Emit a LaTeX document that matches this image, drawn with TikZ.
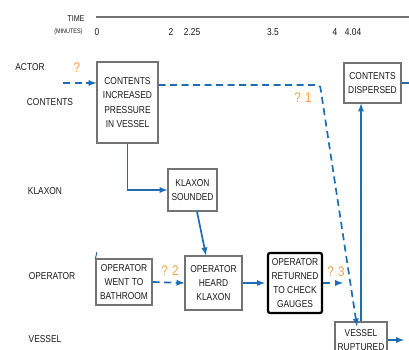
\documentclass[tikz,border=0pt]{standalone}
\usepackage{fontspec}
\setmainfont[FakeStretch=0.84]{Liberation Sans}
\usetikzlibrary{arrows}
\definecolor{flowblue}{RGB}{30,108,178}
\definecolor{qorange}{RGB}{246,162,72}
\definecolor{boxgray}{RGB}{115,115,115}
\tikzset{
  evbox/.style={draw=boxgray,line width=1.1pt,fill=white,align=center,inner sep=1pt,
    font=\fontsize{10}{14.3}\selectfont,text=black!90},
  keybox/.style={evbox,draw=black,line width=2.2pt,rounded corners=2pt},
  rowlab/.style={font=\fontsize{10}{12}\selectfont,text=black!90},
  tick/.style={font=\fontsize{10}{12}\selectfont,text=black!90},
  qmark/.style={font=\fontsize{14}{16}\selectfont,text=qorange},
  flow/.style={draw=flowblue,line width=1.7pt,-latex},
  dflow/.style={flow,dash pattern=on 7pt off 4.5pt},
}
\begin{document}
\begin{tikzpicture}[x=1pt,y=-1pt]
\useasboundingbox (0,0) rectangle (409,349);
\clip (0,0) rectangle (409,349);
% time axis
\draw[boxgray,line width=1.2pt] (96,17)--(409,17);
\node[font=\fontsize{8.5}{10}\selectfont,text=black!90,anchor=east] (timelab) at (88,19) {TIME};
\node[font=\fontsize{6.5}{8}\selectfont,text=black!90,anchor=east] (minlab) at (86,32) {(MINUTES)};
\node[tick] (t0) at (97,32) {0};
\node[tick] (t2) at (171,32) {2};
\node[tick] (t225) at (192,32) {2.25};
\node[tick] (t35) at (273,32) {3.5};
\node[tick] (t4) at (335,32) {4};
\node[tick] (t404) at (353,32) {4.04};
% rows
\node[rowlab] (ractor) at (30,67) {ACTOR};
\node[rowlab] (rcont) at (50,102) {CONTENTS};
\node[rowlab] (rklax) at (45,191) {KLAXON};
\node[rowlab] (roper) at (52,276) {OPERATOR};
\node[rowlab] (rvess) at (45,339) {VESSEL};
% events
\node[evbox,minimum width=61pt,minimum height=81pt] (press) at (127.5,102.5) {CONTENTS\\INCREASED\\PRESSURE\\IN VESSEL};
\node[evbox,minimum width=57pt,minimum height=40pt] (disp) at (372.5,83) {CONTENTS\\DISPERSED};
\node[evbox,minimum width=49pt,minimum height=42pt] (sound) at (192.5,190) {KLAXON\\SOUNDED};
\node[evbox,minimum width=56pt,minimum height=46pt] (bath) at (124,282) {OPERATOR\\WENT TO\\BATHROOM};
\node[evbox,minimum width=57pt,minimum height=54pt] (heard) at (213.5,283) {OPERATOR\\HEARD\\KLAXON};
\node[keybox,minimum width=54pt,minimum height=60pt] (back) at (295,283) {OPERATOR\\RETURNED\\TO CHECK\\GAUGES};
\node[evbox,minimum width=52pt,minimum height=36pt] (rupt) at (361,340) {VESSEL\\RUPTURED};
% unknowns
\node[qmark] (q0) at (77,68) {?};
\node[qmark] (q1) at (303,98) {? 1};
\node[qmark] (q2) at (170,271) {? 2};
\node[qmark] (q3) at (336,272) {? 3};
% links
\coordinate (start) at (63,83);
\coordinate (bend) at (320,85);
\coordinate (tickend) at (97,252);
\coordinate (q3end) at (343,283);
\coordinate (ruptout) at (404,340);
\coordinate (dispout) at (409,83);
\draw[dflow] (start)--(press.west|-start);
\draw[dflow,rounded corners=2pt] (press.east|-bend)--(bend)--([xshift=-4pt,yshift=-5pt]rupt.north);
\draw[flow] (press.south)|-(sound.west);
\draw[flow] ([xshift=4.5pt]sound.south)--([xshift=-7.5pt]heard.north);
\draw[dflow] (bath.east)--(heard.west);
\draw[flow,shorten >=2pt] (heard.east)--(back.west);
\draw[dflow] (back.east)--(q3end);
\draw[flow] (rupt.north)--(rupt.north|-disp.south);
\draw[flow] (rupt.east)--(ruptout);
\draw[draw=flowblue,line width=1.7pt] (disp.east)--(dispout);
\draw[draw=flowblue,line width=1pt] (tickend)--(bath.north west);
\end{tikzpicture}
\end{document}
